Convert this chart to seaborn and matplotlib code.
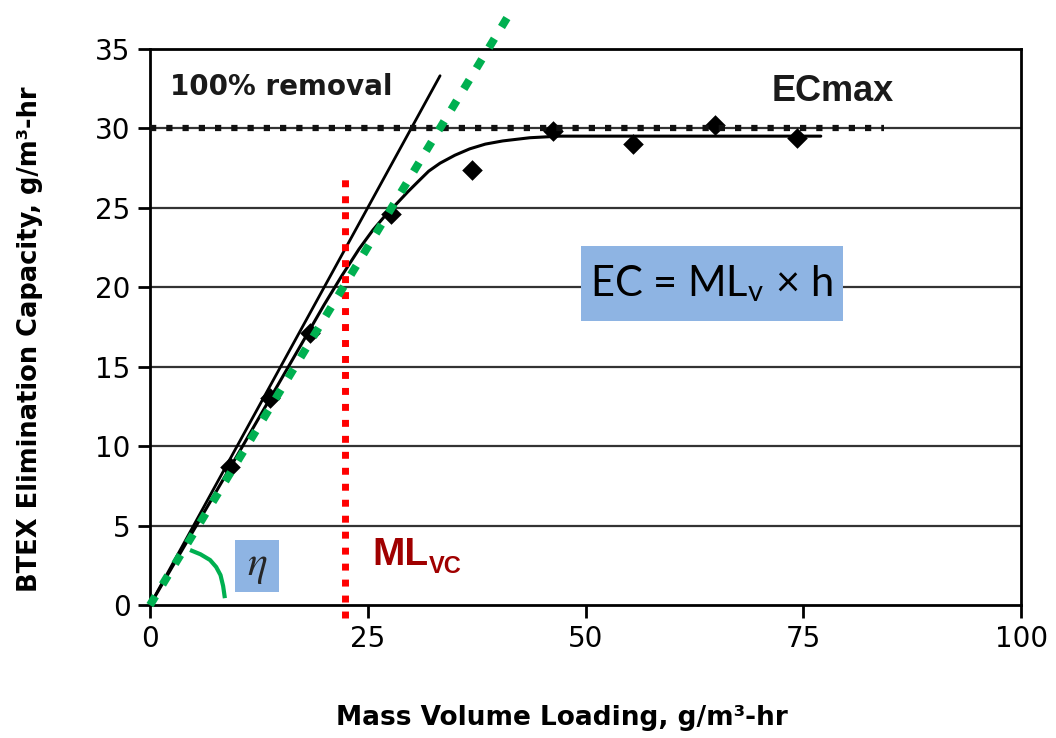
"""
Elimination capacity vs mass volume loading (BTEX biofilter).
"""
import matplotlib
matplotlib.use("Agg")
import matplotlib.pyplot as plt
from matplotlib.patches import Rectangle
import seaborn as sns

# measured points
ml_data = [9.2, 13.8, 18.4, 27.7, 37.0, 46.3, 55.5, 64.9, 74.3]
ec_data = [8.7, 13.0, 17.1, 24.6, 27.4, 29.8, 29.0, 30.2, 29.4]

# fitted curve
curve_x = [0, 10, 20, 22, 24, 25.6, 27.0, 28.4, 29.6, 30.7, 32.0, 33.3, 35.0,
           36.7, 38.5, 40.5, 43.6, 47, 50, 60, 77]
curve_y = [0, 9.4, 18.9, 20.7, 22.4, 23.6, 24.5, 25.3, 26.0, 26.6, 27.3, 27.8, 28.3,
           28.7, 29.0, 29.2, 29.4, 29.5, 29.5, 29.5, 29.5]

# reference lines
removal_x = [0, 33.3]
removal_y = [0, 33.3]
slope_x = [0, 41.5]
slope_y = [0, 37.4]
ecmax_x = [0, 84.2]
ecmax_y = [30, 30]
mlvc_x = [22.4, 22.4]
mlvc_y = [-0.8, 26.9]
arc_x = [4.6, 5.8, 6.9, 7.6, 8.1, 8.4, 8.6]
arc_y = [3.47, 3.2, 2.84, 2.4, 1.89, 1.2, 0.44]

x_ticks = [0, 25, 50, 75, 100]
y_ticks = [0, 5, 10, 15, 20, 25, 30, 35]

sns.set_theme(style="white")
plt.rcParams["font.family"] = ["DejaVu Sans"]
plt.rcParams["mathtext.fontset"] = "stix"

GREEN = "#00B050"
BOX = "#8EB4E3"

fig = plt.figure(figsize=(10.56, 7.38), dpi=100)
ax = fig.add_axes([0.142, 0.180, 0.825, 0.754])

for y in y_ticks[1:-1]:
    ax.axhline(y, color="#333333", lw=1.6, zorder=1)

sns.lineplot(x=curve_x, y=curve_y, sort=False, estimator=None, color="black",
             lw=2.2, ax=ax, zorder=3)
sns.lineplot(x=removal_x, y=removal_y, sort=False, estimator=None, color="black",
             lw=2.0, ax=ax, zorder=3)
sns.scatterplot(x=ml_data, y=ec_data, marker="D", s=110, color="black",
                edgecolor="black", linewidth=0, ax=ax, zorder=4)

ax.plot(ecmax_x, ecmax_y, color="#111111", lw=4.5, linestyle=(0, (1, 1.6)),
        clip_on=False, zorder=5)
ax.plot(mlvc_x, mlvc_y, color="#FF0000", lw=5, linestyle=(0, (1, 1.3)),
        clip_on=False, zorder=5)
ax.plot(slope_x, slope_y, color=GREEN, lw=5.8, linestyle=(0, (1.3, 1.7)),
        clip_on=False, zorder=6)
ax.plot(arc_x, arc_y, color=GREEN, lw=3, solid_capstyle="butt", zorder=6)

# equation box
ax.add_patch(Rectangle((49.5, 17.9), 30.1, 4.66, facecolor=BOX, edgecolor="none", zorder=2))
ax.text(64.5, 20.2, "EC = ML$_\\mathregular{v}$ × h", family=["Lato", "DejaVu Sans"],
        fontsize=30, ha="center", va="center", color="black", zorder=7)

# eta box
ax.add_patch(Rectangle((9.76, 0.82), 5.05, 3.28, facecolor=BOX, edgecolor="none", zorder=2))
ax.text(12.3, 2.5, r"$\eta$", fontsize=30, ha="center", va="center", zorder=7)

ax.text(2.3, 32.6, "100% removal", fontsize=20, fontweight="bold", ha="left",
        va="center", color="#1a1a1a")
ax.text(71.4, 32.3, "ECmax", fontsize=26, fontweight="bold", ha="left", va="center",
        family=["Liberation Sans"], color="#1a1a1a")
ax.text(25.5, 2.52, "ML", fontsize=28, fontweight="bold", ha="left", va="baseline",
        family=["Liberation Sans"], color="#A00000")
ax.text(32.0, 2.0, "VC", fontsize=17, fontweight="bold", ha="left", va="baseline",
        family=["Liberation Sans"], color="#A00000")

ax.set_xlim(0, 100)
ax.set_ylim(0, 35)
ax.set_xticks(x_ticks)
ax.set_yticks(y_ticks)
ax.tick_params(axis="both", direction="out", length=9, width=2, color="black",
               labelsize=20, labelcolor="black", pad=5, bottom=True, left=True)
for s in ax.spines.values():
    s.set_color("black")
    s.set_linewidth(2)

ax.set_xlabel("Mass Volume Loading, g/m³-hr", fontsize=19, fontweight="bold",
              color="black", va="center")
ax.set_ylabel("BTEX Elimination Capacity, g/m³-hr", fontsize=18.5, fontweight="bold",
              color="black", va="center")
ax.xaxis.set_label_coords(0.473, -0.203)
ax.yaxis.set_label_coords(-0.138, 0.477)

fig.savefig("out.png", dpi=100)
